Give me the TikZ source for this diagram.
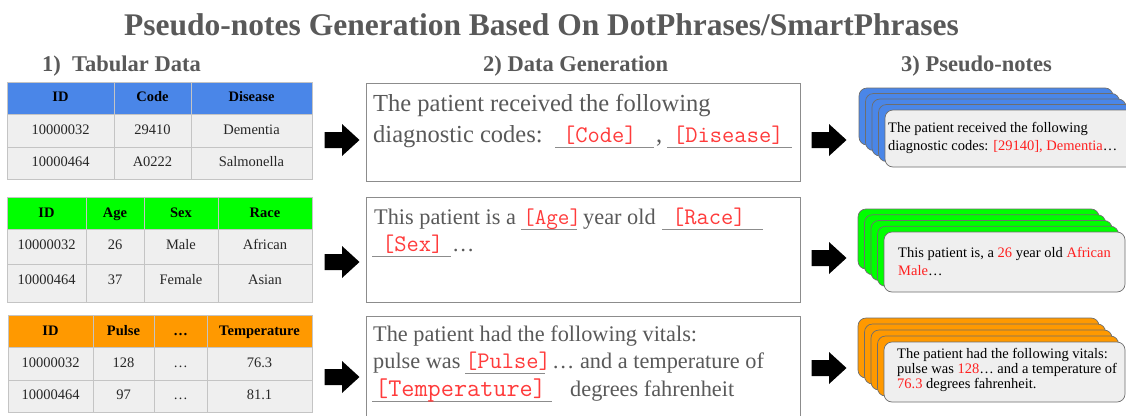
\documentclass[tikz,border=0pt]{standalone}
\usepackage{fontspec}
\setmainfont{Liberation Serif}
\definecolor{titlegray}{HTML}{595959}
\definecolor{hblue}{HTML}{4A86E8}
\definecolor{hgreen}{HTML}{00FF00}
\definecolor{horange}{HTML}{FF9900}
\definecolor{cellgray}{HTML}{EFEFEF}
\definecolor{gridgray}{HTML}{C4C4C4}
\definecolor{boxgray}{HTML}{8C8C8C}
\definecolor{phred}{HTML}{FF3B3B}
\definecolor{cardred}{HTML}{FF1F1F}
\definecolor{cardedge}{HTML}{6E6E6E}
\definecolor{celltext}{HTML}{262626}
\tikzset{
  ttl/.style={inner sep=0, anchor=base west, text=titlegray, font=\fontsize{31.5}{36}\selectfont\bfseries},
  sub/.style={inner sep=0, anchor=base west, text=titlegray, font=\fontsize{22.5}{26}\selectfont\bfseries},
  hd/.style={inner sep=0, anchor=center, text=black, text height=10pt, text depth=3pt, font=\fontsize{14.5}{16}\selectfont\bfseries},
  cl/.style={inner sep=0, anchor=center, text=celltext, text height=10pt, text depth=3pt, font=\fontsize{14.5}{17}\selectfont},
  grid/.style={draw=gridgray, line width=1},
  genA/.style={inner sep=0, anchor=base west, text=titlegray, font=\fontsize{24.5}{29}\selectfont},
  genB/.style={inner sep=0, anchor=base west, text=titlegray, font=\fontsize{22.3}{27}\selectfont},
  ph/.style={inner sep=0, anchor=base west, text=phred, font=\fontsize{23.8}{27}\selectfont\ttfamily},
  ul/.style={draw=boxgray, line width=0.8},
  genbox/.style={draw=boxgray, line width=0.9},
  cardline/.style={draw=cardedge, line width=0.7, rounded corners=8},
  ct/.style={inner sep=0, anchor=base west, text=black, font=\fontsize{14.5}{17}\selectfont},
  barrow/.pic={\fill[black] (-17.5,-8) -- (0,-8) -- (0,-16) -- (17.5,0) -- (0,16) -- (0,8) -- (-17.5,8) -- cycle;}
}
\begin{document}
\begin{tikzpicture}[x=1pt,y=-1pt]
\useasboundingbox (0,0) rectangle (1126,415);
\clip (0,0) rectangle (1126,415);
\fill[white] (0,0) rectangle (1126,415);

% titles
\node[ttl] (title) at (124,35) {Pseudo-notes Generation Based On DotPhrases/SmartPhrases};
\node[sub] (s1) at (42,71) {1)\ \ Tabular Data};
\node[sub] (s2) at (483,71) {2) Data Generation};
\node[sub] (s3) at (901,71) {3) Pseudo-notes};

% ---------- table 1
\fill[hblue] (7,82) rectangle (312,114);
\fill[cellgray] (7,114) rectangle (312,179);
\draw[grid] (7,82) rectangle (312,179);
\draw[grid] (7,114) -- (312,114) (7,147) -- (312,147) (114,82) -- (114,179) (191,82) -- (191,179);
\node[hd] (t1h1) at (60.5,98) {ID};
\node[hd] (t1h2) at (152.5,98) {Code};
\node[hd] (t1h3) at (251.5,98) {Disease};
\node[cl] (t1a1) at (60.5,131) {10000032};
\node[cl] (t1a2) at (152.5,131) {29410};
\node[cl] (t1a3) at (251.5,131) {Dementia};
\node[cl] (t1b1) at (60.5,163) {10000464};
\node[cl] (t1b2) at (152.5,163) {A0222};
\node[cl] (t1b3) at (251.5,163) {Salmonella};

% ---------- table 2
\fill[hgreen] (7,197) rectangle (312,229);
\fill[cellgray] (7,229) rectangle (312,302);
\draw[grid] (7,197) rectangle (312,302);
\draw[grid] (7,229) -- (312,229) (7,264) -- (312,264) (86,197) -- (86,302) (144,197) -- (144,302) (218,197) -- (218,302);
\node[hd] (t2h1) at (46.5,214) {ID};
\node[hd] (t2h2) at (115,214) {Age};
\node[hd] (t2h3) at (181,214) {Sex};
\node[hd] (t2h4) at (265,214) {Race};
\node[cl] (t2a1) at (46.5,246) {10000032};
\node[cl] (t2a2) at (115,246) {26};
\node[cl] (t2a3) at (181,246) {Male};
\node[cl] (t2a4) at (265,246) {African};
\node[cl] (t2b1) at (46.5,281) {10000464};
\node[cl] (t2b2) at (115,281) {37};
\node[cl] (t2b3) at (181,281) {Female};
\node[cl] (t2b4) at (265,281) {Asian};

% ---------- table 3
\fill[horange] (8,315) rectangle (312,347);
\fill[cellgray] (8,347) rectangle (312,412);
\draw[grid] (8,315) rectangle (312,412);
\draw[grid] (8,347) -- (312,347) (8,380) -- (312,380) (93,315) -- (93,412) (154,315) -- (154,412) (207,315) -- (207,412);
\node[hd] (t3h1) at (50.5,332) {ID};
\node[hd] (t3h2) at (123.5,332) {Pulse};
\node[hd] (t3h3) at (180.5,332) {…};
\node[hd] (t3h4) at (259.5,332) {Temperature};
\node[cl] (t3a1) at (50.5,364) {10000032};
\node[cl] (t3a2) at (123.5,364) {128};
\node[cl] (t3a3) at (180.5,364) {…};
\node[cl] (t3a4) at (259.5,364) {76.3};
\node[cl] (t3b1) at (50.5,396) {10000464};
\node[cl] (t3b2) at (123.5,396) {97};
\node[cl] (t3b3) at (180.5,396) {…};
\node[cl] (t3b4) at (259.5,396) {81.1};

% ---------- arrows
\pic (la1) at (342,140) {barrow};
\pic (la2) at (342,262) {barrow};
\pic (la3) at (342,377) {barrow};
\pic (ra1) at (829,140) {barrow};
\pic (ra2) at (829,258) {barrow};
\pic (ra3) at (829,368) {barrow};

% ---------- generation boxes
\draw[genbox] (366,83) rectangle (800,181);
\draw[genbox] (366,197) rectangle (800,302);
\draw[genbox] (366,316) rectangle (800,430);

% box 1
\node[genA] (g1l1) at (373,111) {The patient received the following};
\node[genA] (g1l2) at (373,142) {diagnostic codes:};
\draw[ul] (555,147) -- (654,147);
\node[ph] (g1code) at (563,142) {[Code]};
\node[genA] (g1comma) at (656,142) {,};
\draw[ul] (667,147) -- (792,147);
\node[ph] (g1dis) at (673,142) {[Disease]};

% box 2
\node[genB] (g2l1) at (374,224) {This patient is a};
\draw[ul] (521,229) -- (577,229);
\node[ph, font=\fontsize{22.5}{26}\selectfont\ttfamily] (g2age) at (523,224) {[Age]};
\node[genB] (g2yo) at (583,224) {year old};
\draw[ul] (662,229) -- (763,229);
\node[ph] (g2race) at (672,224) {[Race]};
\draw[ul] (372,256) -- (451,256);
\node[ph] (g2sex) at (382,251) {[Sex]};
\node[genB] (g2dots) at (452,251) {…};

% box 3
\node[genB] (g3l1) at (373,341) {The patient had the following vitals:};
\node[genB] (g3l2) at (373,368) {pulse was};
\draw[ul] (465,373) -- (545,373);
\node[ph] (g3pulse) at (465,368) {[Pulse]};
\node[genB] (g3rest) at (552,368) {… and a temperature of};
\draw[ul] (372,401) -- (552,401);
\node[ph, font=\fontsize{25.5}{29}\selectfont\ttfamily] (g3temp) at (375,396) {[Temperature]};
\node[genB] (g3deg) at (570,396) {degrees fahrenheit};

% ---------- card stacks
\foreach \k in {4,3,2,1}{\draw[cardline, fill=hblue] ({885-6.5*\k},{110-5.5*\k}) rectangle ++(254,57);}
\draw[cardline, fill=cellgray] (885,110) rectangle ++(254,57);
\node[ct] (c1l1) at (888,132) {The patient received the following};
\node[ct] (c1l2) at (888,150) {diagnostic codes: \textcolor{cardred}{[29140], Dementia}…};

\foreach \k in {4,3,2,1}{\draw[cardline, fill=hgreen] ({884-6.5*\k},{232-5.75*\k}) rectangle ++(241,60);}
\draw[cardline, fill=cellgray] (884,232) rectangle ++(241,60);
\node[ct] (c2l1) at (898,257) {This patient is, a \textcolor{cardred}{26} year old \textcolor{cardred}{African}};
\node[ct] (c2l2) at (898,275) {\textcolor{cardred}{Male}…};

\foreach \k in {4,3,2,1}{\draw[cardline, fill=horange] ({884-6.5*\k},{342-6*\k}) rectangle ++(241,60);}
\draw[cardline, fill=cellgray] (884,342) rectangle ++(241,60);
\node[ct] (c3l1) at (897,358) {The patient had the following vitals:};
\node[ct] (c3l2) at (897,373) {pulse was \textcolor{cardred}{128}… and a temperature of};
\node[ct] (c3l3) at (897,388) {\textcolor{cardred}{76.3} degrees fahrenheit.};
\end{tikzpicture}
\end{document}
